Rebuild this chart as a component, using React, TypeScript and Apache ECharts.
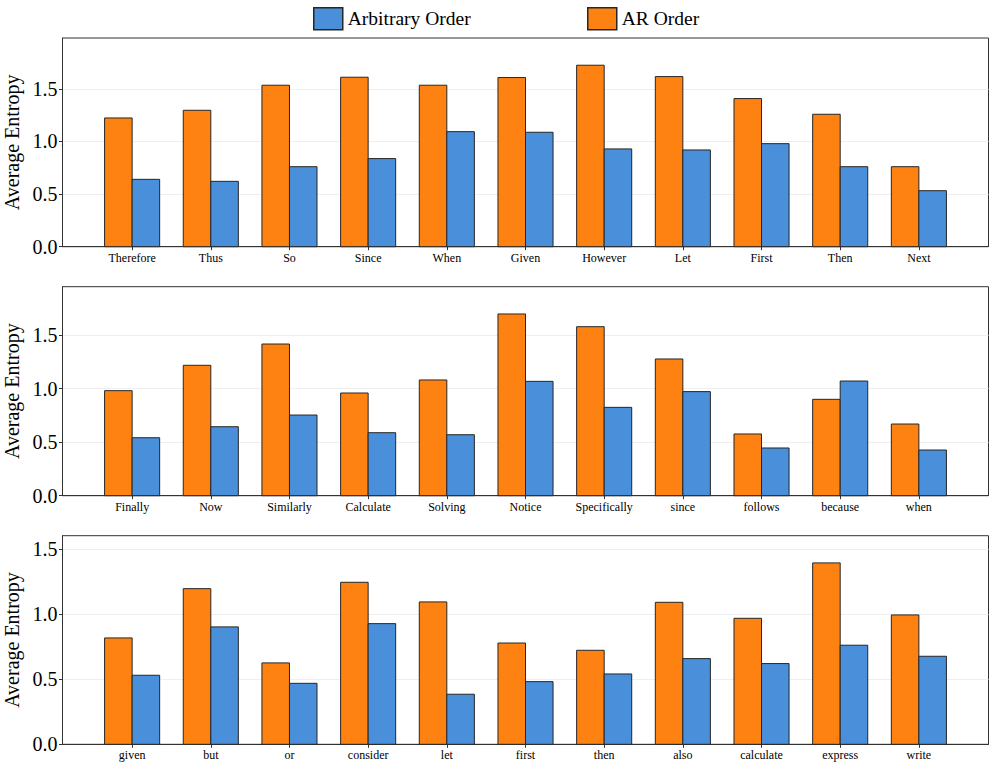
import React, { useEffect, useRef } from "react";
import * as echarts from "echarts";

const categories1 = ["Therefore", "Thus", "So", "Since", "When", "Given", "However", "Let", "First", "Then", "Next"];
const arOrder1 = [1.223, 1.296, 1.534, 1.610, 1.534, 1.607, 1.724, 1.616, 1.407, 1.258, 0.760];
const arbitrary1 = [0.640, 0.621, 0.760, 0.837, 1.093, 1.087, 0.929, 0.919, 0.979, 0.760, 0.532];

const categories2 = ["Finally", "Now", "Similarly", "Calculate", "Solving", "Notice", "Specifically", "since", "follows", "because", "when"];
const arOrder2 = [0.982, 1.219, 1.418, 0.960, 1.082, 1.699, 1.580, 1.278, 0.577, 0.901, 0.670];
const arbitrary2 = [0.542, 0.645, 0.754, 0.589, 0.570, 1.069, 0.826, 0.973, 0.446, 1.072, 0.427];

const categories3 = ["given", "but", "or", "consider", "let", "first", "then", "also", "calculate", "express", "write"];
const arOrder3 = [0.818, 1.197, 0.626, 1.246, 1.095, 0.779, 0.723, 1.092, 0.969, 1.395, 0.995];
const arbitrary3 = [0.531, 0.903, 0.469, 0.928, 0.385, 0.482, 0.541, 0.659, 0.621, 0.762, 0.677];

const yTicks = [0, 0.5, 1.0, 1.5];

const ORANGE = "#fd8212";
const BLUE = "#4a8fd9";
const EDGE = "#262626";
const FONT = "'Liberation Serif', 'Times New Roman', serif";
const BAR_W = 0.35;

export default function App() {
  const ref = useRef<HTMLDivElement>(null);
  useEffect(() => {
    if (!ref.current) return;
    const chart = echarts.init(ref.current, null, { renderer: "svg" });
    const panels = [
      { cats: categories1, ar: arOrder1, arb: arbitrary1, top: 38, height: 208.7 },
      { cats: categories2, ar: arOrder2, arb: arbitrary2, top: 286.7, height: 209 },
      { cats: categories3, ar: arOrder3, arb: arbitrary3, top: 535.7, height: 208.6 },
    ];
    const grids: any[] = [];
    const xAxes: any[] = [];
    const yAxes: any[] = [];
    const series: any[] = [];
    const mkRender = (off: number, color: string) => (params: any, api: any) => {
      const x = api.value(0);
      const v = api.value(1);
      const a = api.coord([x + off, v]);
      const b = api.coord([x + off + BAR_W, 0]);
      return {
        type: "rect",
        shape: { x: a[0], y: a[1], width: b[0] - a[0], height: b[1] - a[1] },
        style: { fill: color, stroke: EDGE, lineWidth: 1 },
      };
    };
    panels.forEach((p, i) => {
      const n = p.cats.length;
      const ymax = Math.max(...p.ar, ...p.arb) * 1.15;
      const pad = (n - 1 + 2 * BAR_W) * 0.05;
      grids.push({
        left: 62.5,
        width: 926,
        top: p.top,
        height: p.height,
        containLabel: false,
        outerBoundsMode: "none",
        show: true,
        borderColor: "#333",
        borderWidth: 1,
        backgroundColor: "transparent",
      });
      xAxes.push({
        type: "value",
        gridIndex: i,
        min: -BAR_W - pad,
        max: n - 1 + BAR_W + pad,
        axisLine: { show: true, onZero: false, lineStyle: { color: "#333", width: 1 } },
        axisTick: { show: true, length: 3.5, customValues: p.cats.map((_, k) => k), lineStyle: { color: "#333" } },
        axisLabel: {
          show: true,
          customValues: p.cats.map((_, k) => k),
          formatter: (v: number) => p.cats[Math.round(v)] ?? "",
          fontFamily: FONT,
          fontSize: 12,
          color: "#000",
          margin: 5,
        },
        splitLine: { show: false },
      });
      yAxes.push({
        type: "value",
        gridIndex: i,
        min: 0,
        max: ymax,
        interval: 0.5,
        name: "Average Entropy",
        nameLocation: "middle",
        nameGap: 34,
        nameTextStyle: { fontFamily: FONT, fontSize: 20, color: "#000" },
        axisLine: { show: true, onZero: false, lineStyle: { color: "#333", width: 1 } },
        axisTick: { show: true, length: 3.5, customValues: yTicks, lineStyle: { color: "#333" } },
        axisLabel: {
          show: true,
          customValues: yTicks,
          formatter: (v: number) => v.toFixed(1),
          fontFamily: FONT,
          fontSize: 20,
          color: "#000",
          margin: 5,
        },
        splitLine: { show: true, lineStyle: { color: "#efefef", width: 1 } },
      });
      series.push({
        type: "custom",
        name: "AR Order",
        xAxisIndex: i,
        yAxisIndex: i,
        data: p.ar.map((v, k) => [k, v]),
        encode: { x: 0, y: 1 },
        itemStyle: { color: ORANGE },
        renderItem: mkRender(-BAR_W, ORANGE),
      });
      series.push({
        type: "custom",
        name: "Arbitrary Order",
        xAxisIndex: i,
        yAxisIndex: i,
        data: p.arb.map((v, k) => [k, v]),
        encode: { x: 0, y: 1 },
        itemStyle: { color: BLUE },
        renderItem: mkRender(0, BLUE),
      });
    });
    const legendBase = {
      top: 7,
      orient: "horizontal",
      icon: "rect",
      itemWidth: 29,
      itemHeight: 22,
      padding: 0,
      textStyle: { fontFamily: FONT, fontSize: 19.5, color: "#000" },
      selectedMode: false,
    };
    chart.setOption({
      animation: false,
      backgroundColor: "#fff",
      legend: [
        {
          ...legendBase,
          left: 313,
          data: [{ name: "Arbitrary Order", itemStyle: { color: BLUE, borderColor: EDGE, borderWidth: 1.5 } }],
        },
        {
          ...legendBase,
          left: 587,
          data: [{ name: "AR Order", itemStyle: { color: ORANGE, borderColor: EDGE, borderWidth: 1.5 } }],
        },
      ],
      grid: grids,
      xAxis: xAxes,
      yAxis: yAxes,
      series,
    });
    return () => chart.dispose();
  }, []);
  return <div ref={ref} style={{ position: "fixed", left: 0, top: 0, width: 996, height: 771 }} />;
}
